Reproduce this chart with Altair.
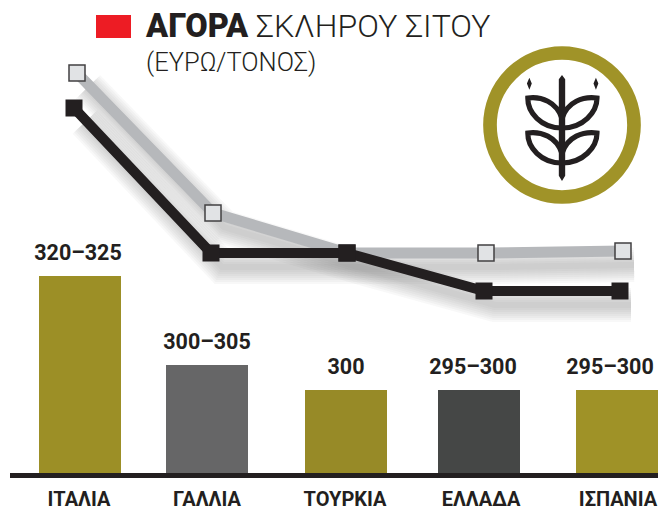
import altair as alt
import pandas as pd

# ---- data
countries = ["ΙΤΑΛΙΑ", "ΓΑΛΛΙΑ", "ΤΟΥΡΚΙΑ", "ΕΛΛΑΔΑ", "ΙΣΠΑΝΙΑ"]
slots = [0, 1, 2, 3, 4]
range_labels = ["320–325", "300–305", "300", "295–300", "295–300"]
bar_levels = [197, 108, 83, 83, 83]
black_line = [365, 220, 220, 182, 182]
grey_line = [400, 260, 220, 220, 222]
bar_colors = ["#9c8f26", "#666667", "#978a27", "#454746", "#9f9227"]

M = 8  # page margin


def xs(pixels):
    return alt.Scale(domain=slots, range=[p - M for p in pixels], padding=0, zero=False, nice=False)


BAR_X = xs([80, 207, 346, 479, 617])
LABEL_X = xs([78, 207, 346, 473, 610])
NAME_X = xs([79, 207, 345, 481, 618])
BLACK_X = xs([74, 211, 347, 484, 620])
GREY_X = xs([77, 213, 347, 486, 623])
Y = alt.Scale(domain=[0, 465], range=[465, 0])

df = pd.DataFrame({
    "country": countries, "slot": slots, "label": range_labels,
    "bar": bar_levels, "black": black_line, "grey": grey_line,
})
base = alt.Chart(df)


def X(scale):
    return alt.X("slot:Q", scale=scale, axis=None)


def Yf(field):
    return alt.Y(f"{field}:Q", scale=Y, axis=None)


layers = []
# soft shadows under the lines
for field, sc in (("grey", GREY_X), ("black", BLACK_X)):
    for w in (34, 30, 26, 22, 18, 14, 10, 6):
        layers.append(
            base.mark_line(color="#77797c", opacity=0.05, strokeWidth=w,
                           xOffset=11, yOffset=14)
            .encode(x=X(sc), y=Yf(field), order="slot:Q")
        )

# lines and markers
layers.append(base.mark_line(color="#b6b8bb", strokeWidth=11).encode(x=X(GREY_X), y=Yf("grey"), order="slot:Q"))
layers.append(base.mark_point(shape="square", filled=True, fill="#e1e3e5", stroke="#414042",
                              strokeWidth=1.5, size=256, opacity=1)
              .encode(x=X(GREY_X), y=Yf("grey")))
layers.append(base.mark_line(color="#231f20", strokeWidth=10).encode(x=X(BLACK_X), y=Yf("black"), order="slot:Q"))
layers.append(base.mark_point(shape="square", filled=True, fill="#231f20", size=289, opacity=1)
              .encode(x=X(BLACK_X), y=Yf("black")))

# bars
layers.append(
    base.mark_bar(size=82).encode(
        x=X(BAR_X), y=Yf("bar"), y2=alt.Y2(datum=0),
        color=alt.Color("country:N", scale=alt.Scale(domain=countries, range=bar_colors), legend=None),
    )
)
# baseline
layers.append(
    alt.Chart(pd.DataFrame({"a": [0]})).mark_rule(color="#231f20", strokeWidth=5)
    .encode(x=alt.value(10 - M), x2=alt.value(658 - M), y=alt.value(475.5 - M))
)
# value labels
layers.append(
    base.mark_text(font="Roboto", fontWeight="bold", fontSize=21.5, color="#231f20",
                   baseline="alphabetic", dy=-16)
    .encode(x=X(LABEL_X), y=Yf("bar"), text="label:N")
)
# country names
layers.append(
    base.mark_text(font="Roboto", fontWeight="bold", fontSize=20, color="#231f20",
                   baseline="alphabetic")
    .encode(x=X(NAME_X), y=alt.value(506 - M), text="country:N")
)


def note(text, x, y, **kw):
    return alt.Chart(pd.DataFrame({"a": [0]})).mark_text(
        text=text, align="left", baseline="alphabetic", color="#231f20", **kw
    ).encode(x=alt.value(x - M), y=alt.value(y - M))


layers.append(note("ΑΓΟΡΑ", 146, 37, font="Roboto", fontWeight=900, fontSize=32.5))
layers.append(note("ΣΚΛΗΡΟΥ ΣΙΤΟΥ", 256, 37, font="Roboto", fontWeight=300, fontSize=32))
layers.append(note("(ΕΥΡΩ/ΤΟΝΟΣ)", 146, 71, font="Roboto", fontWeight=300, fontSize=25.5))

# red key
layers.append(
    alt.Chart(pd.DataFrame({"a": [0]})).mark_rect(color="#ed1c24")
    .encode(x=alt.value(96 - M), x2=alt.value(131 - M), y=alt.value(15 - M), y2=alt.value(38 - M))
)

# wheat emblem
one = alt.Chart(pd.DataFrame({"a": [0]}))
layers.append(
    one.mark_point(shape="circle", filled=False, stroke="#a09328", strokeWidth=13.7,
                   size=144 ** 2, opacity=1)
    .encode(x=alt.value(562 - M), y=alt.value(125 - M))
)
WHEAT_FILL = (
    "M0,-1 L.06,-.92 L.06,.9 L0,1 L-.06,.9 L-.06,-.92 Z "
    "M-.616,-.95 L-.57,-.84 L-.616,-.72 L-.662,-.84 Z "
    "M.64,-.95 L.686,-.84 L.64,-.72 L.594,-.84 Z"
)
WHEAT_LEAVES = (
    "M-.645,-.566 C-.4,-.6 -.1,-.5 0,-.18 L0,0 C-.4,0 -.65,-.3 -.645,-.566 Z "
    "M.66,-.566 C.4,-.6 .1,-.5 0,-.18 L0,0 C.4,0 .66,-.3 .66,-.566 Z "
    "M-.645,.094 C-.4,.06 -.1,.16 0,.48 L0,.66 C-.4,.66 -.65,.36 -.645,.094 Z "
    "M.66,.094 C.4,.06 .1,.16 0,.48 L0,.66 C.4,.66 .66,.36 .66,.094 Z"
)
layers.append(
    one.mark_point(shape=WHEAT_FILL, filled=True, fill="#231f20", size=106 ** 2, opacity=1)
    .encode(x=alt.value(562 - M), y=alt.value(128 - M))
)
layers.append(
    one.mark_point(shape=WHEAT_LEAVES, filled=False, stroke="#231f20", strokeWidth=5.2,
                   size=106 ** 2, opacity=1)
    .encode(x=alt.value(562 - M), y=alt.value(128 - M))
)

chart = (
    alt.layer(*layers)
    .resolve_scale(x="independent", color="independent")
    .properties(width=650, height=502, padding=0, autosize=alt.AutoSizeParams(type="none"))
    .configure_view(stroke=None)
)
chart.save("out.html", embed_options={"renderer": "svg", "actions": False})
